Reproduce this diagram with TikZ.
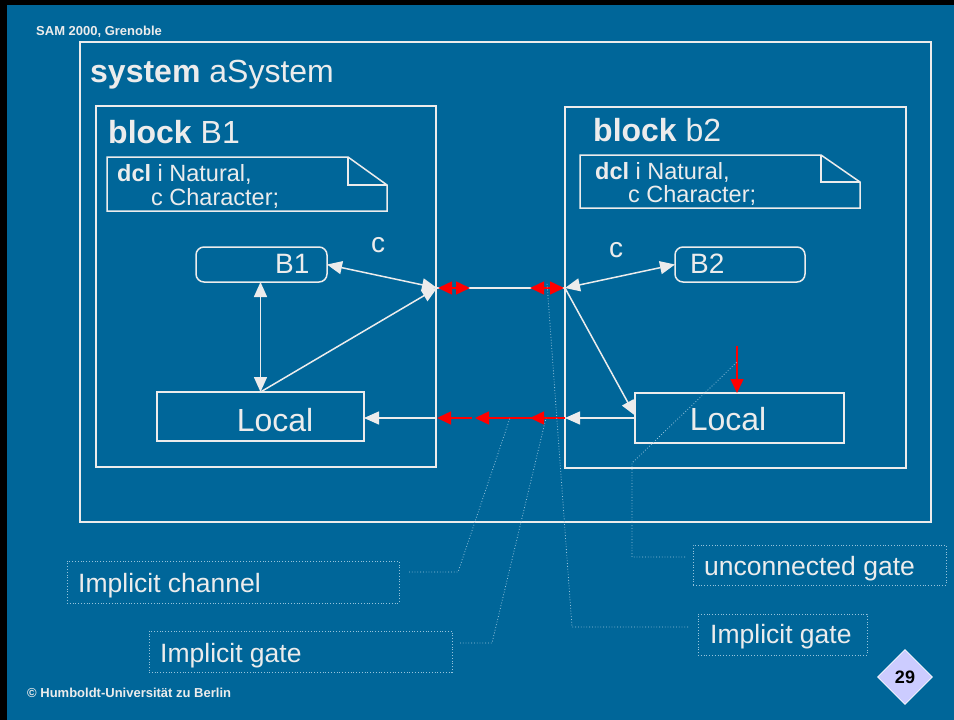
\documentclass[tikz,border=0pt]{standalone}
\usepackage{fontspec}
\setmainfont{Liberation Sans}
\usetikzlibrary{arrows.meta,shapes.geometric,calc}
\definecolor{bg}{RGB}{0,102,153}
\definecolor{fg}{RGB}{236,236,236}
\definecolor{dotc}{RGB}{150,195,220}
\definecolor{lav}{RGB}{204,204,255}
\definecolor{redc}{RGB}{255,0,0}
\begin{document}
\begin{tikzpicture}[x=1pt,y=-1pt,
  frame/.style={draw=fg,line width=1.5pt,inner sep=0pt,outer sep=0pt,anchor=north west},
  dbox/.style={draw=dotc,line width=0.8pt,dotted,inner sep=0pt,outer sep=0pt,anchor=north west},
  txt/.style={text=fg,inner sep=0pt,anchor=base west},
  big/.style={font=\fontsize{32}{36}\selectfont},
  bnode/.style={font=\fontsize{28}{32}\selectfont},
  mid/.style={font=\fontsize{23.5}{26}\selectfont},
  lab/.style={font=\fontsize{26.5}{30}\selectfont},
  small/.style={font=\bfseries\fontsize{13}{15}\selectfont},
  wline/.style={draw=fg,line width=1.5pt},
  wt/.style={-{Triangle[length=15pt,width=13pt]}},
  wtt/.style={{Triangle[length=15pt,width=13pt]}-{Triangle[length=15pt,width=13pt]}},
  rline/.style={draw=redc,line width=1.5pt},
  rt/.style={-{Triangle[length=14pt,width=13pt]}},
  rtt/.style={{Triangle[length=14pt,width=13pt]}-{Triangle[length=14pt,width=13pt]}},
  dotl/.style={draw=dotc,line width=0.8pt,dotted}
]
\useasboundingbox (0,0) rectangle (954,720);
\fill[black] (0,0) rectangle (954,720);
\fill[bg] (7,5) rectangle (954,720);

% header/footer
\node[txt,small] (hdr) at (36,35) {SAM 2000, Grenoble};
\node[txt,small] (ftr) at (27,697) {© Humboldt-Universität zu Berlin};

% system frame
\node[frame,minimum width=851pt,minimum height=480pt] (sys) at (80,42) {};
\node[txt,big] (systxt) at (90,82) {\textbf{system} aSystem};

% block B1
\node[frame,minimum width=340pt,minimum height=361pt] (blk1) at (96,106) {};
\node[txt,big] (blk1txt) at (108,143) {\textbf{block} B1};
\draw[wline] (107,157) -- (348,157) -- (387,185) -- (387,211) -- (107,211) -- cycle;
\draw[wline] (348,157) -- (348,185) -- (387,185);
\node[txt,mid] (dcl1a) at (117,181) {\textbf{dcl} i Natural,};
\node[txt,mid] (dcl1b) at (151,205) {c Character;};

% block b2
\node[frame,minimum width=341pt,minimum height=361pt] (blk2) at (565,107) {};
\node[txt,big] (blk2txt) at (593,141) {\textbf{block} b2};
\draw[wline] (580,155) -- (821,155) -- (860,182) -- (860,208) -- (580,208) -- cycle;
\draw[wline] (821,155) -- (821,182) -- (860,182);
\node[txt,mid] (dcl2a) at (595,179) {\textbf{dcl} i Natural,};
\node[txt,mid] (dcl2b) at (628,202) {c Character;};

% process sets
\node[frame,rounded corners=8pt,minimum width=131pt,minimum height=35pt] (b1) at (196,247) {};
\node[txt,bnode] (b1txt) at (275,273) {B1};
\node[frame,minimum width=207pt,minimum height=49pt] (loc1) at (157,392) {};
\node[txt,big,anchor=base] (loc1txt) at (275,431) {Local};

\node[frame,rounded corners=8pt,minimum width=130pt,minimum height=35pt] (b2) at (675,247) {};
\node[txt,bnode] (b2txt) at (690,273) {B2};
\node[frame,minimum width=209pt,minimum height=50pt] (loc2) at (635,393) {};
\node[txt,big,anchor=base] (loc2txt) at (728,430) {Local};

\node[txt,bnode] (c1) at (371,252) {c};
\node[txt,bnode] (c2) at (609,257) {c};

% gates
\coordinate (g1) at (437,288);
\coordinate (g2) at (565,288);
\coordinate (g3) at (437,418);
\coordinate (g4) at (565,418);
\coordinate (r1a) at (438,288);
\coordinate (r1b) at (470,288);
\coordinate (r2a) at (530,288);
\coordinate (r2b) at (564,288);
\coordinate (m1) at (530,418);
\coordinate (m2) at (533,418);
\coordinate (m3) at (475,418);
\coordinate (m4) at (472,418);
\coordinate (ug) at (737,346);

% white connectors, B1 side
\draw[wline,wtt] (b1.east) -- (g1);
\draw[wline,wtt] (loc1.north) -- (loc1.north |- b1.south);
\draw[wline,wt] (loc1.north) -- (g1);
\draw[wline,wt] (g3) -- (loc1.east |- g3);

% white connectors, b2 side
\draw[wline,wtt] (g2) -- (b2.west);
\draw[wline,wt] (g2) -- ($(loc2.north west)!0.45!(loc2.south west)$);
\draw[wline,wt] (loc2.west |- g4) -- (g4);

% implicit channel upper
\draw[wline] (g1) -- (g2);
\draw[rline,rtt] (r1a) -- (r1b);
\draw[rline,rtt] (r2a) -- (r2b);

% implicit channel lower
\draw[rline,rt] (g4) -- (m1);
\draw[rline,rt] (m2) -- (m3);
\draw[rline,rt] (m4) -- (g3);

% unconnected gate
\draw[rline,rt] (ug) -- (ug |- loc2.north);

% annotation boxes
\node[dbox,minimum width=332pt,minimum height=42pt] (icbox) at (67,561) {};
\node[txt,lab] (ictxt) at (78,592) {Implicit channel};
\node[dbox,minimum width=303pt,minimum height=41pt] (igbox1) at (149,631) {};
\node[txt,lab] (igtxt1) at (160,662) {Implicit gate};
\node[dbox,minimum width=253pt,minimum height=40pt] (ugbox) at (693,545) {};
\node[txt,lab] (ugtxt) at (704,575) {unconnected gate};
\node[dbox,minimum width=169pt,minimum height=41pt] (igbox2) at (698,614) {};
\node[txt,lab] (igtxt2) at (710,643) {Implicit gate};

% leaders
\coordinate (d1) at (409,572);
\coordinate (d2) at (460,643);
\coordinate (d3) at (688,627);
\coordinate (d4) at (685,557);
\draw[dotl] (d1) -- (458,572) -- (510,418);
\draw[dotl] (d2) -- (492,643) -- (546,418);
\draw[dotl] (d3) -- (572,627) -- (547,283);
\draw[dotl] (d4) -- (632,557) -- (632,463) -- (737,362);

% page number
\node[diamond,fill=lav,draw=white,line width=0.8pt,minimum width=55pt,minimum height=55pt,inner sep=0pt,font=\bfseries\fontsize{18}{20}\selectfont] (pg) at (905,677) {29};
\end{tikzpicture}
\end{document}
